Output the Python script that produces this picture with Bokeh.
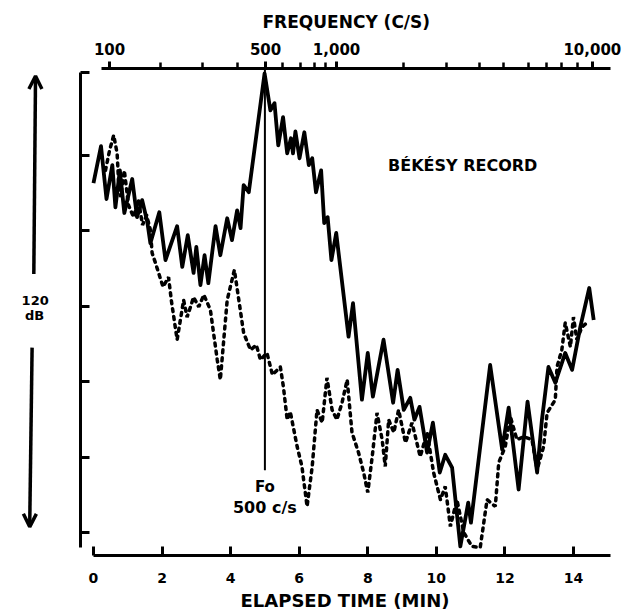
from bokeh.plotting import figure
from bokeh.models import (Range1d, LinearAxis, FixedTicker, CustomJSTickFormatter,
                          Label, Arrow, OpenHead, Title)
from bokeh.embed import file_html
from bokeh.resources import INLINE

# ---------------- data ----------------
# solid Békésy tracing (elapsed time in minutes, level in dB)
solid_t = [0.0, 0.22, 0.38, 0.55, 0.64, 0.77, 0.90, 1.13, 1.27, 1.42, 1.57, 1.66, 1.92, 2.10,
           2.44, 2.59, 2.75, 2.92, 3.00, 3.12, 3.24, 3.35, 3.56, 3.70, 3.90, 4.04, 4.19, 4.29,
           4.38, 4.53, 4.99, 5.16, 5.28, 5.39, 5.53, 5.65, 5.76, 5.82, 5.89, 6.01, 6.15, 6.28,
           6.38, 6.49, 6.64, 6.73, 6.83, 6.94, 7.08, 7.44, 7.57, 7.83, 8.00, 8.15, 8.46, 8.74,
           8.87, 9.05, 9.24, 9.36, 9.51, 9.73, 9.90, 10.10, 10.26, 10.46, 10.70, 10.93, 11.01,
           11.57, 11.92, 12.11, 12.40, 12.66, 12.94, 13.08, 13.27, 13.47, 13.76, 13.96, 14.20,
           14.46, 14.59]
solid_db = [92.6, 102.4, 88.4, 97.4, 86.2, 96.0, 84.7, 93.7, 83.6, 88.1, 82.3, 76.7, 84.9, 72.2,
            81.2, 70.4, 78.8, 68.8, 75.7, 65.6, 73.5, 66.1, 81.2, 73.5, 83.3, 77.5, 85.4, 80.7,
            92.1, 90.2, 121.7, 111.9, 113.8, 102.6, 110.1, 100.5, 104.5, 100.5, 106.3, 99.2, 106.1, 97.4,
            99.2, 90.2, 96.0, 82.0, 83.6, 72.2, 79.4, 51.9, 60.8, 35.2, 47.6, 36.0, 51.1, 34.4,
            43.1, 32.5, 35.7, 29.9, 33.3, 21.2, 29.1, 15.9, 20.6, 17.2, -3.7, 7.9, 2.6,
            44.4, 22.0, 33.1, 11.4, 34.7, 15.9, 29.9, 43.9, 39.7, 47.6, 43.1, 54.5,
            64.8, 56.3]

# dotted tracing
dot_t = [0.35, 0.47, 0.59, 0.69, 0.73, 0.79, 0.90, 1.02, 1.17, 1.31, 1.43, 1.55, 1.66, 1.71,
         1.81, 1.90, 2.03, 2.19, 2.27, 2.44, 2.63, 2.73, 2.83, 2.92, 3.07, 3.22, 3.41, 3.61,
         3.70, 3.90, 4.11, 4.24, 4.38, 4.58, 4.75, 4.87, 5.06, 5.22, 5.45, 5.54, 5.65, 5.74,
         5.94, 6.08, 6.23, 6.38, 6.52, 6.67, 6.81, 6.96, 7.10, 7.25, 7.40, 7.54, 7.73, 7.88,
         8.00, 8.13, 8.27, 8.42, 8.51, 8.61, 8.76, 8.90, 9.10, 9.29, 9.53, 9.73, 9.92, 10.12,
         10.26, 10.41, 10.60, 10.80, 11.04, 11.28, 11.48, 11.72, 11.82, 12.01, 12.16, 12.35,
         12.55, 12.79, 12.94, 13.13, 13.23, 13.47, 13.52, 13.66, 13.76, 13.91, 14.00, 14.10,
         14.25, 14.39]
dot_db = [96.0, 101.3, 105.3, 100.5, 93.4, 88.9, 96.0, 86.8, 83.6, 88.1, 81.5, 84.1, 80.2, 74.1,
          71.4, 68.8, 65.1, 67.7, 61.6, 51.1, 61.6, 57.1, 59.8, 62.4, 59.8, 63.0, 59.0, 45.8,
          40.5, 61.6, 69.6, 61.6, 52.9, 48.4, 49.7, 45.8, 47.6, 41.8, 43.9, 38.6, 29.9, 32.0,
          22.8, 17.5, 6.9, 17.5, 32.5, 29.1, 41.0, 32.5, 29.9, 34.4, 40.5, 26.5, 21.2, 15.9,
          10.6, 20.1, 31.7, 24.6, 17.5, 29.9, 26.5, 32.5, 23.8, 29.1, 20.1, 26.5, 15.9, 8.7,
          12.2, 1.6, 8.7, 0.0, -3.7, -4.0, 8.7, 6.9, 18.5, 22.8, 30.7, 24.6,
          25.4, 24.6, 16.7, 22.8, 31.7, 35.2, 43.9, 48.4, 55.6, 49.2, 57.1, 51.1,
          54.5, 55.6]

# axes
time_ticks = [0, 2, 4, 6, 8, 10, 12, 14]
db_ticks = [0, 20, 40, 60, 80, 100, 122]
freq_labels = ["100", "500", "1,000", "10,000"]
freq_label_time = [0.47, 5.02, 7.09, 14.55]
freq_minor_time = [1.95, 3.18, 4.20, 5.51, 6.03, 6.44, 6.76, 9.04, 10.29, 11.25, 11.95,
                   12.68, 13.21, 13.65, 14.11]

f0_time = 5.0
f0_db = [16.5, 123.0]

FONT = "DejaVu Sans"
INK = "black"

p = figure(width=628, height=613, output_backend="svg", toolbar_location=None,
           x_range=Range1d(-2.42, 15.08), y_range=Range1d(-6.1, 123.0),
           x_axis_location=None, y_axis_location=None,
           min_border_left=10, min_border_right=18, min_border_top=68, min_border_bottom=57)
p.outline_line_color = None
p.grid.visible = False
p.background_fill_color = "white"
p.border_fill_color = "white"

# bottom axis
xb = LinearAxis(ticker=FixedTicker(ticks=time_ticks), bounds=(0, 15.07))
xb.axis_line_width = 3
xb.major_tick_line_width = 3
xb.major_tick_in = 9
xb.major_tick_out = 0
xb.minor_tick_line_color = None
xb.major_label_standoff = 17
xb.major_label_text_font = FONT
xb.major_label_text_font_style = "bold"
xb.major_label_text_font_size = "14px"
xb.major_label_text_color = INK
p.add_layout(xb, "below")
p.add_layout(Title(text="ELAPSED  TIME  (MIN)", align="left", offset=230, standoff=5,
                   text_font=FONT, text_font_style="bold", text_font_size="18px",
                   text_color=INK), "below")

# top (frequency) axis
xt = LinearAxis(ticker=FixedTicker(ticks=freq_label_time, minor_ticks=freq_minor_time),
                bounds=(0.23, 15.07),
                formatter=CustomJSTickFormatter(args=dict(labels=freq_labels),
                                                code="return labels[index]"))
xt.axis_line_width = 3
xt.major_tick_line_width = 3
xt.major_tick_in = 0
xt.major_tick_out = 7
xt.minor_tick_line_width = 2.5
xt.minor_tick_in = 0
xt.minor_tick_out = 6
xt.major_label_standoff = 7
xt.major_label_text_font = FONT
xt.major_label_text_font_style = "bold"
xt.major_label_text_font_size = "15px"
xt.major_label_text_color = INK
p.add_layout(xt, "above")
p.add_layout(Title(text="FREQUENCY   (C/S)", align="left", offset=252, standoff=16,
                   text_font=FONT, text_font_style="bold", text_font_size="17px",
                   text_color=INK), "above")

# left (level) axis, unlabeled, drawn at its own position inside the frame
yl = LinearAxis(ticker=FixedTicker(ticks=db_ticks), bounds=(-4.0, 122.0),
                formatter=CustomJSTickFormatter(code="return ''"))
yl.fixed_location = -0.38
yl.axis_line_width = 3
yl.major_tick_line_width = 3
yl.major_tick_in = 9
yl.major_tick_out = 0
yl.minor_tick_line_color = None
yl.major_label_standoff = 0
p.add_layout(yl, "left")

# curves
p.line(dot_t, dot_db, line_color=INK, line_width=3.5, line_dash="3 5", line_cap="round")
p.line(solid_t, solid_db, line_color=INK, line_width=3.8, line_join="round")

# F0 marker line
p.segment(x0=[f0_time], y0=[f0_db[0]], x1=[f0_time], y1=[f0_db[1]],
          line_color=INK, line_width=2)
p.add_layout(Label(x=f0_time, y=12.0, text="Fo", text_align="center", text_baseline="middle",
                   text_font=FONT, text_font_style="bold", text_font_size="15px",
                   text_color=INK))
p.add_layout(Label(x=f0_time, y=6.5, text="500 c/s", text_align="center", text_baseline="middle",
                   text_font=FONT, text_font_style="bold", text_font_size="16px",
                   text_color=INK))

p.add_layout(Label(x=10.85, y=97.4, text="BÉKÉSY  RECORD", text_align="center",
                   text_baseline="middle", text_font=FONT, text_font_style="bold",
                   text_font_size="16px", text_color=INK))

# 120 dB span indicator
p.add_layout(Arrow(x_start=-1.74, y_start=68.5, x_end=-1.69, y_end=121.0, line_width=3.5,
                   line_color=INK, end=OpenHead(size=13, line_width=3.5, line_color=INK)))
p.add_layout(Arrow(x_start=-1.79, y_start=49.0, x_end=-1.86, y_end=1.5, line_width=3.5,
                   line_color=INK, end=OpenHead(size=13, line_width=3.5, line_color=INK)))
p.add_layout(Label(x=-1.70, y=61.6, text="120", text_align="center", text_baseline="middle",
                   text_font=FONT, text_font_style="bold", text_font_size="13px",
                   text_color=INK))
p.add_layout(Label(x=-1.72, y=57.6, text="dB", text_align="center", text_baseline="middle",
                   text_font=FONT, text_font_style="bold", text_font_size="13px",
                   text_color=INK))

open("out.html", "w").write(file_html(p, INLINE))
